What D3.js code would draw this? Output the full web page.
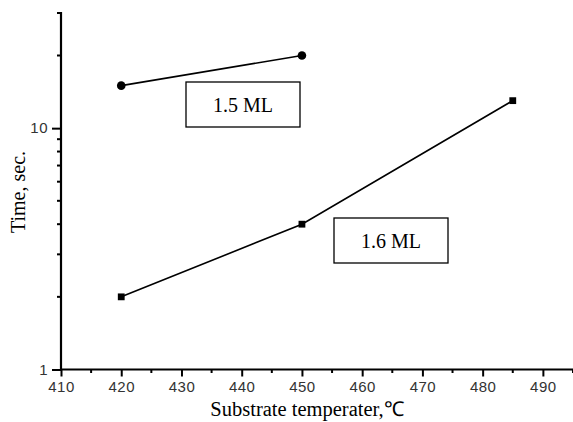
<!DOCTYPE html>
<html>
<head>
<meta charset="utf-8">
<script src="https://cdn.jsdelivr.net/npm/d3@7/dist/d3.min.js"></script>
<style>
  html, body { margin: 0; padding: 0; background: #fff; }
  svg { display: block; }
</style>
</head>
<body>
<script>
// Growth time vs. substrate temperature for two coverages
const temps15 = [420, 450];
const times15 = [15, 20];
const temps16 = [420, 450, 485];
const times16 = [2, 4, 13];
const xMajorTicks = [410, 420, 430, 440, 450, 460, 470, 480, 490];
const xMinorTicks = [415, 425, 435, 445, 455, 465, 475, 485, 495];
const yMajorTicks = [1, 10];
const yMinorTicks = [2, 3, 4, 5, 6, 7, 8, 9, 20, 30];
const label15 = "1.5 ML";
const label16 = "1.6 ML";
const xTitle = "Substrate temperater,\u2103";
const yTitle = "Time, sec.";

const W = 573, H = 422;
const svg = d3.select("body").append("svg").attr("width", W).attr("height", H);

const x = d3.scaleLinear().domain([410, 495]).range([61, 573]);
const y = d3.scaleLog().domain([1, 30]).range([369.5, 13]);

const tickFont = "'Liberation Sans', Arial, sans-serif";
const serif = "'Liberation Serif', 'Times New Roman', serif";

// x axis
const gx = svg.append("g").attr("transform", `translate(0,${y(1)})`)
  .call(d3.axisBottom(x).tickValues(xMajorTicks).tickSize(7).tickPadding(5).tickFormat(d3.format("d")));
gx.append("g").selectAll("line").data(xMinorTicks).join("line")
  .attr("x1", d => x(d)).attr("x2", d => x(d)).attr("y1", 0).attr("y2", 3.5)
  .attr("stroke", "#000").attr("stroke-width", 2);

// y axis
const gy = svg.append("g").attr("transform", `translate(${x(410)},0)`)
  .call(d3.axisLeft(y).tickValues(yMajorTicks).tickSize(9).tickPadding(4).tickFormat(d3.format("d")));
gy.append("g").selectAll("line").data(yMinorTicks).join("line")
  .attr("y1", d => y(d)).attr("y2", d => y(d)).attr("x1", 0).attr("x2", -4)
  .attr("stroke", "#000").attr("stroke-width", 2);

[gx, gy].forEach(g => {
  g.select(".domain").attr("stroke", "#000").attr("stroke-width", 2.2);
  g.selectAll(".tick line").attr("stroke", "#000").attr("stroke-width", 2);
  g.selectAll(".tick text").attr("font-family", tickFont).attr("font-size", 15)
    .attr("letter-spacing", 0.5).attr("fill", "#333");
});
gx.select(".domain").attr("d", `M${x(410)},0H${W}`);
gy.select(".domain").attr("d", `M0,${y(1)}V${y(30) - 1}`);

// series lines
const line = d3.line().x(d => x(d[0])).y(d => y(d[1]));
const data15 = temps15.map((t, i) => [t, times15[i]]);
const data16 = temps16.map((t, i) => [t, times16[i]]);

svg.append("path").datum(data15).attr("d", line)
  .attr("fill", "none").attr("stroke", "#000").attr("stroke-width", 1.6);
svg.append("path").datum(data16).attr("d", line)
  .attr("fill", "none").attr("stroke", "#000").attr("stroke-width", 1.6);

svg.append("g").selectAll("circle").data(data15).join("circle")
  .attr("cx", d => x(d[0])).attr("cy", d => y(d[1])).attr("r", 4.3).attr("fill", "#000");
svg.append("g").selectAll("rect").data(data16).join("rect")
  .attr("x", d => x(d[0]) - 3.4).attr("y", d => y(d[1]) - 3.4)
  .attr("width", 6.8).attr("height", 6.8).attr("fill", "#000");

// boxed series labels
function boxLabel(cx, cy, text) {
  const g = svg.append("g");
  g.append("rect").attr("x", cx - 57).attr("y", cy - 22.5).attr("width", 114).attr("height", 45)
    .attr("fill", "#fff").attr("stroke", "#000").attr("stroke-width", 1.3);
  g.append("text").attr("x", cx).attr("y", cy + 7).attr("text-anchor", "middle")
    .attr("font-family", serif).attr("font-size", 20)
    .attr("fill", "#000").text(text);
}
boxLabel(243, 104.5, label15);
boxLabel(391, 240.5, label16);

// axis titles
svg.append("text").attr("x", 307).attr("y", 416).attr("text-anchor", "middle")
  .attr("font-family", serif).attr("font-size", 20.5).attr("fill", "#000").text(xTitle);
svg.append("text").attr("transform", "translate(25,192) rotate(-90)").attr("text-anchor", "middle")
  .attr("font-family", serif).attr("font-size", 20).attr("fill", "#000").text(yTitle);
</script>
</body>
</html>
